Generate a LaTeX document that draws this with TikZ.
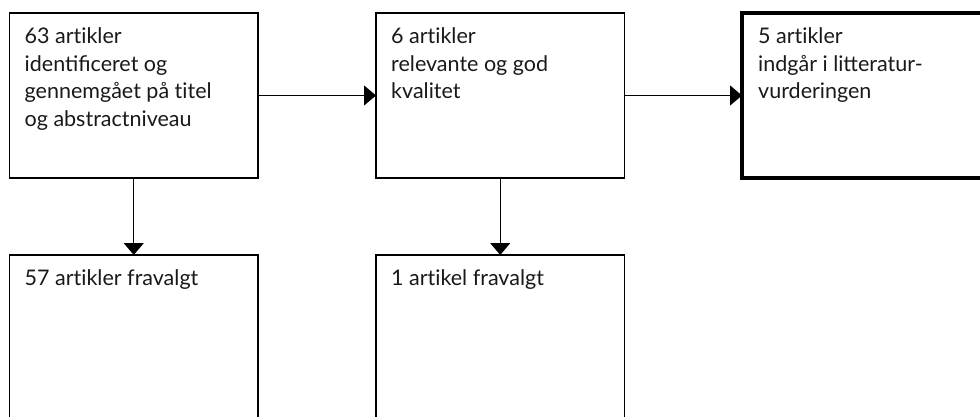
\documentclass[tikz,border=0pt]{standalone}
\usepackage{fontspec}
\setmainfont{Lato}
\usetikzlibrary{arrows.meta,calc}
% keeps "t" and "i" apart (Lato would otherwise join them)
\newcommand{\tisep}{t\kern0pt i}
\begin{document}
\begin{tikzpicture}[x=1pt,y=-1pt,
  box/.style={draw=black, line width=1.2pt, rectangle, inner sep=0pt, outer sep=0pt,
    minimum width=248.5pt, minimum height=165pt, anchor=north west},
  finalbox/.style={box, line width=3.4pt},
  lbl/.style={anchor=north west, inner sep=0pt, align=left, text=black!90,
    font=\fontsize{21.5}{27.5}\selectfont},
  arr/.style={line width=1.2pt, -{Triangle[width=20pt,length=12pt]}}]
\useasboundingbox (0,0) rectangle (980,416);
\clip (0,0) rectangle (980,416);
% boxes
\node[box] (b1) at (9.5,13) {};
\node[box] (b2) at (376,13) {};
\node[finalbox] (b3) at (742,13) {};
\node[box] (b4) at (9.5,255) {};
\node[box] (b5) at (376,255) {};
% texts
\node[lbl] (t1) at ($(b1.north west)+(15,14.5)$) {63 ar\tisep kler\\identificeret og\\gennemgået på \tisep tel\\og abstractniveau};
\node[lbl] (t2) at ($(b2.north west)+(15,14.5)$) {6 ar\tisep kler\\relevante og god\\kvalitet};
\node[lbl] (t3) at ($(b3.north west)+(16,14.5)$) {5 ar\tisep kler\\indgår i litteratur-\\vurderingen};
\node[lbl] (t4) at ($(b4.north west)+(15,14.5)$) {57 ar\tisep kler fravalgt};
\node[lbl] (t5) at ($(b5.north west)+(15,14.5)$) {1 ar\tisep kel fravalgt};
% connectors
\draw[arr] (b1.east) -- (b2.west);
\draw[arr] (b2.east) -- (b3.west);
\draw[arr] (b1.south) -- (b4.north);
\draw[arr] (b2.south) -- (b5.north);
\end{tikzpicture}
\end{document}
